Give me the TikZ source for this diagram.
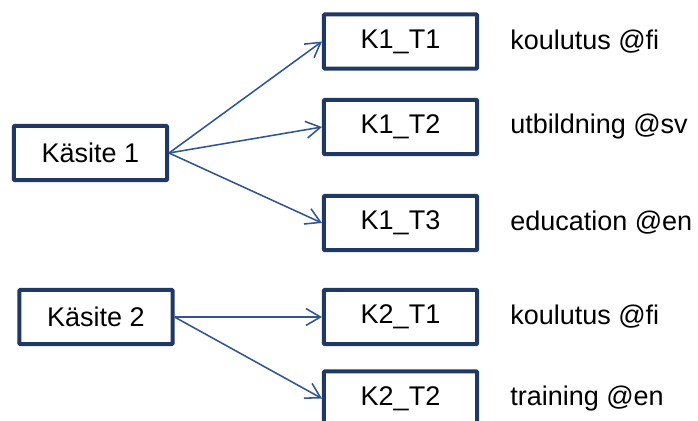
\documentclass[tikz,border=0pt]{standalone}
\usepackage{fontspec}
\setmainfont{Liberation Sans}
\usetikzlibrary{arrows.meta,positioning}
\definecolor{boxline}{HTML}{203864}
\definecolor{arrline}{HTML}{2F5597}
\begin{document}
\begin{tikzpicture}[x=0.025cm,y=-0.025cm,
    term/.style={draw=boxline,line width=0.1cm,rounded corners=0.5pt,
      minimum width=3.825cm,minimum height=1.35cm,inner sep=0pt,
      font=\fontsize{19.2}{23}\selectfont},
    lang/.style={anchor=west,inner sep=0pt,font=\fontsize{19.2}{23}\selectfont},
    link/.style={draw=arrline,line width=1.1pt,
      -{Straight Barb[length=0.36cm,width=0.42cm,line width=1.1pt]}}]
      \useasboundingbox (0,0) rectangle (698,421);
      \clip (0,0) rectangle (698,421);
      % concepts
      \node[term] (k1) at (90.5,153) {Käsite 1};
      \node[term] (k2) at (96,317) {Käsite 2};
      % terms
      \node[term] (k11) at (400.5,41.5) {K1\_T1};
      \node[term] (k12) at (400.5,127) {K1\_T2};
      \node[term] (k13) at (400.5,223) {K1\_T3};
      \node[term] (k21) at (400.5,317) {K2\_T1};
      \node[term] (k22) at (400.5,398.5) {K2\_T2};
      % language labels
      \node[lang] (l11) at (510,41.5) {koulutus @fi};
      \node[lang] (l12) at (510,127) {utbildning @sv};
      \node[lang] (l13) at (510,223) {education @en};
      \node[lang] (l21) at (510,317) {koulutus @fi};
      \node[lang] (l22) at (510,398.5) {training @en};
      % links
      \draw[link] (k1.east) -- (k11.west);
      \draw[link] (k1.east) -- (k12.west);
      \draw[link] (k1.east) -- (k13.west);
      \draw[link] (k2.east) -- (k21.west);
      \draw[link] (k2.east) -- (k22.west);
\end{tikzpicture}
\end{document}
